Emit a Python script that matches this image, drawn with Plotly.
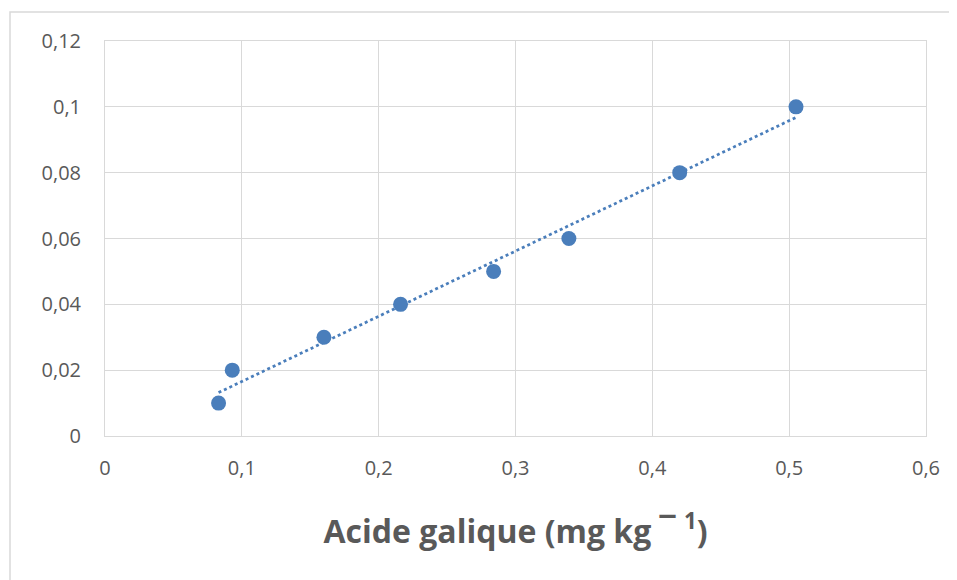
import numpy as np
import plotly.graph_objects as go

# Data
acide_galique = [0.083, 0.093, 0.160, 0.216, 0.284, 0.339, 0.420, 0.505]
absorbance = [0.010, 0.020, 0.030, 0.040, 0.050, 0.060, 0.080, 0.100]

x_tickvals = [0, 0.1, 0.2, 0.3, 0.4, 0.5, 0.6]
x_ticktext = ["0", "0,1", "0,2", "0,3", "0,4", "0,5", "0,6"]
y_tickvals = [0, 0.02, 0.04, 0.06, 0.08, 0.10, 0.12]
y_ticktext = ["0", "0,02", "0,04", "0,06", "0,08", "0,1", "0,12"]

x_title = "Acide galique (mg kg ¯ <sup>1</sup>)"

# page body has an 8px margin; figure sized to fill the 957x580 window
OFF = 8
W, H = 957 - OFF, 580 - OFF
pw, ph = 821, 395
L, T = 105 - OFF, 41 - OFF
R, B = W - L - pw, H - T - ph

# Linear trendline (least squares, like the spreadsheet trendline)
slope, intercept = np.polyfit(acide_galique, absorbance, 1)
tx = [min(acide_galique), max(acide_galique)]
ty = [slope * v + intercept for v in tx]

blue = "#4A7EBB"
fig = go.Figure()
fig.add_trace(go.Scatter(x=tx, y=ty, mode="lines",
                         line=dict(color=blue, width=2.75, dash="dot"),
                         hoverinfo="skip", showlegend=False))
fig.add_trace(go.Scatter(x=acide_galique, y=absorbance, mode="markers",
                         marker=dict(color=blue, size=15), showlegend=False))

grid = "#D9D9D9"
tickfont = dict(family="Open Sans", size=20, color="#595959")
fig.update_xaxes(range=[0, 0.6], tickvals=x_tickvals, ticktext=x_ticktext,
                 showgrid=True, gridcolor=grid, gridwidth=1, zeroline=False,
                 showline=True, linecolor=grid, linewidth=1, mirror=True,
                 ticks="", ticklabelstandoff=14, tickfont=tickfont,
                 title=dict(text=x_title, standoff=40,
                            font=dict(family="Open Sans", size=32, color="#595959",
                                      weight="bold")))
fig.update_yaxes(range=[0, 0.12], tickvals=y_tickvals, ticktext=y_ticktext,
                 showgrid=True, gridcolor=grid, gridwidth=1, zeroline=False,
                 showline=True, linecolor=grid, linewidth=1, mirror=True,
                 ticks="", ticklabelstandoff=19, tickfont=tickfont)

# Outer chart border (left and top visible in the reference)
bx0 = (10 - OFF - L) / pw
by1 = (T + ph - (12 - OFF)) / ph
fig.add_shape(type="rect", xref="paper", yref="paper",
              x0=bx0, x1=(W + 50 - L) / pw, y0=-(B + 50) / ph, y1=by1,
              line=dict(color=grid, width=1.5), layer="below")

fig.update_layout(width=W, height=H, margin=dict(l=L, r=R, t=T, b=B),
                  plot_bgcolor="white", paper_bgcolor="white",
                  font=dict(family="Open Sans"))
fig.write_html("out.html")
